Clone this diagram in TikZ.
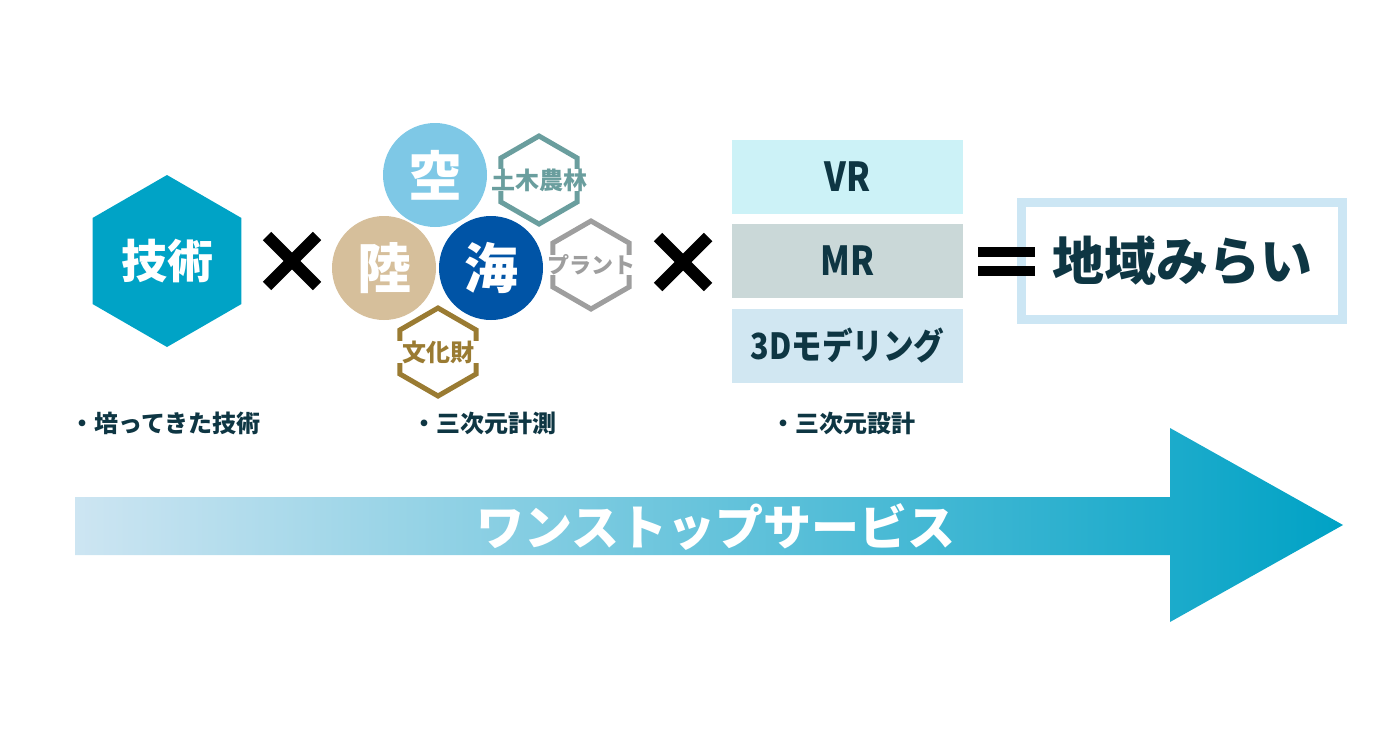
\documentclass[tikz,border=0pt]{standalone}
\usepackage{fontspec}
\setmainfont{Noto Sans CJK JP}
\newfontfamily\narrowfont{Noto Sans CJK JP}[FakeStretch=0.85]
\usetikzlibrary{shapes.geometric}

\definecolor{techblue}{HTML}{00A3C6}
\definecolor{skyblue}{HTML}{7EC8E6}
\definecolor{landtan}{HTML}{D6BF9B}
\definecolor{seablue}{HTML}{0054A6}
\definecolor{dobokugreen}{HTML}{6A9E9E}
\definecolor{plantgrey}{HTML}{9E9E9E}
\definecolor{bunkabrown}{HTML}{9A7B32}
\definecolor{vrfill}{HTML}{CCF2F7}
\definecolor{mrfill}{HTML}{CAD8D8}
\definecolor{modelfill}{HTML}{D1E7F2}
\definecolor{darktext}{HTML}{0E3643}
\definecolor{goalframe}{HTML}{CCE6F4}
\definecolor{arrowlight}{HTML}{CDE5F2}
\definecolor{arrowdark}{HTML}{00A2C5}

\tikzset{
  hexa/.style={regular polygon, regular polygon sides=6, shape border rotate=30, inner sep=0pt},
  hexline/.style={hexa, draw, line width=2.5pt, minimum size=44pt},
  hexlabel/.style={fill=white, inner xsep=3pt, inner ysep=0pt, font=\bfseries\fontsize{12}{12}\selectfont},
  ball/.style={circle, inner sep=0pt, minimum size=52pt, text=white, font=\bfseries\fontsize{27}{27}\selectfont},
  bar/.style={minimum width=115.5pt, minimum height=37pt, inner sep=0pt, text=darktext},
  bullet/.style={anchor=west, inner sep=0pt, text=darktext, font=\bfseries\fontsize{12}{12}\selectfont},
  times/.style={line width=6pt}
}

\begin{document}
\begin{tikzpicture}[x=0.5pt, y=-0.5pt]
\useasboundingbox ( 0, 0 ) rectangle ( 1400, 738 );

% Technique
\node [hexa, fill=techblue, minimum size=86pt, text=white, font=\bfseries\fontsize{23}{23}\selectfont] (tech) at ( 167, 261 ) {技術};

% Times
\draw [times] ( 267, 236 ) -- ( 317, 286 );
\draw [times] ( 317, 236 ) -- ( 267, 286 );

% Fields
\node [hexline, draw=dobokugreen] (doboku) at ( 539, 180 ) {};
\node [hexline, draw=plantgrey] (plant) at ( 591, 265 ) {};
\node [hexline, draw=bunkabrown] (bunka) at ( 438, 352 ) {};
\node [hexlabel, text=dobokugreen] (dobokulabel) at (doboku) {土木農林};
\node [hexlabel, text=plantgrey, font=\bfseries\fontsize{11}{11}\selectfont] (plantlabel) at (plant) {プラント};
\node [hexlabel, text=bunkabrown] (bunkalabel) at (bunka) {文化財};

\node [ball, fill=skyblue] (sky) at ( 435, 175 ) {空};
\node [ball, fill=landtan] (land) at ( 384, 268 ) {陸};
\node [ball, fill=seablue] (sea) at ( 491, 268 ) {海};

% Times
\draw [times] ( 658, 237 ) -- ( 708, 287 );
\draw [times] ( 708, 237 ) -- ( 658, 287 );

% Design
\node [bar, fill=vrfill, font=\narrowfont\bfseries\fontsize{20}{20}\selectfont] (vr) at ( 847.5, 176.5 ) {VR};
\node [bar, fill=mrfill, font=\narrowfont\bfseries\fontsize{20}{20}\selectfont] (mr) at ( 847.5, 261 ) {MR};
\node [bar, fill=modelfill, font=\narrowfont\bfseries\fontsize{18}{18}\selectfont] (model) at ( 847.5, 345.5 ) {3Dモデリング};

% Goal
\node [draw=goalframe, line width=4.5pt, fill=white, minimum width=160.5pt, minimum height=58.5pt, text=darktext, font=\bfseries\fontsize{26}{26}\selectfont] (goal) at ( 1182, 261 ) {地域みらい};

% Equals
\fill [black] ( 978, 247 ) rectangle ( 1035, 257 );
\fill [black] ( 978, 266 ) rectangle ( 1035, 276 );

% Labels
\node [bullet] (skill) at ( 70, 423 ) {・培ってきた技術};
\node [bullet] (measure) at ( 412, 423 ) {・三次元計測};
\node [bullet] (design) at ( 771, 423 ) {・三次元設計};

% Arrow
\shade [left color=arrowlight, right color=arrowdark] ( 75, 497 ) -- ( 1170, 497 ) -- ( 1170, 428 ) -- ( 1343, 525 ) -- ( 1170, 622 ) -- ( 1170, 555 ) -- ( 75, 555 ) -- cycle;
\node [text=white, font=\bfseries\fontsize{24}{24}\selectfont] (service) at ( 716, 527 ) {ワンストップサービス};

\end{tikzpicture}
\end{document}
